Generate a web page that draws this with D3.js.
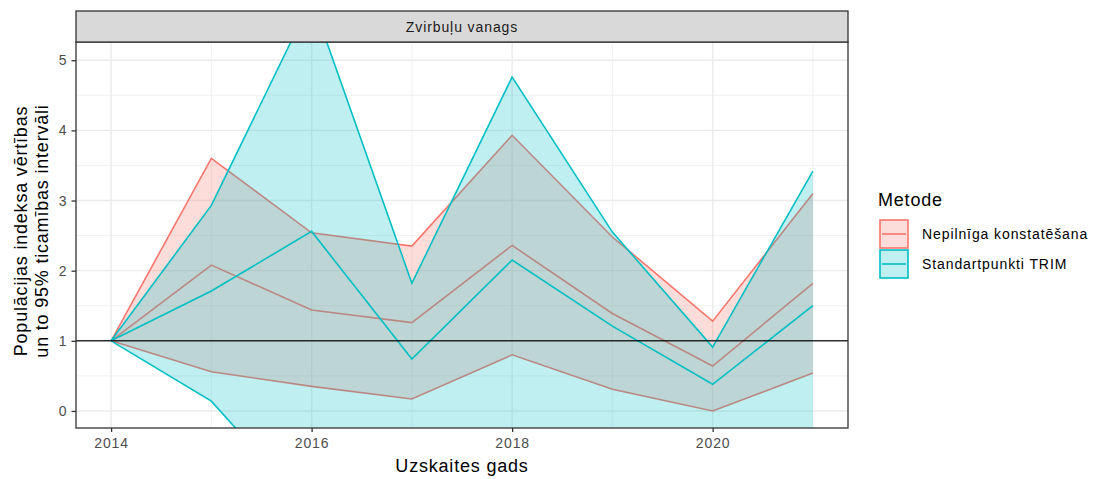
<!DOCTYPE html>
<html>
<head>
<meta charset="utf-8">
<script src="https://cdn.jsdelivr.net/npm/d3@7"></script>
<style>
    body { margin: 0; background: #fff; }
    svg { font-family: "Liberation Sans", Arial, sans-serif; }
</style>
</head>
<body>
<svg width="1097" height="479"></svg>
<script>
const years = [2014, 2015, 2016, 2017, 2018, 2019, 2020, 2021];

// Nepilnīga konstatēšana
const redLower = [1, 0.56, 0.35, 0.17, 0.80, 0.31, 0.00, 0.54];
const redMean  = [1, 2.08, 1.44, 1.26, 2.36, 1.39, 0.64, 1.82];
const redUpper = [1, 3.60, 2.54, 2.35, 3.93, 2.48, 1.28, 3.10];

// Standartpunkti TRIM
const tealLower = [1, 0.14, -1.45, -1.6, -0.9, -1.0, -1.3, -0.6];
const tealMean  = [1, 1.71, 2.56, 0.74, 2.15, 1.21, 0.38, 1.50];
const tealUpper = [1, 2.93, 5.87, 1.82, 4.76, 2.55, 0.91, 3.42];

const xTicks = [2014, 2016, 2018, 2020];
const yTicks = [0, 1, 2, 3, 4, 5];
const seriesNames = ["Nepilnīga konstatēšana", "Standartpunkti TRIM"];
const colors = ["#F8766D", "#00BFC4"];

const svg = d3.select("svg");
const panel = { left: 76, right: 848, top: 42, bottom: 428 };
const smallFont = { size: "14px", spacing: "0.9px" };
const bigFont = { size: "18px", spacing: "0.8px" };

const x = d3.scaleLinear()
    .domain([2013.65, 2021.35])
    .range([panel.left, panel.right]);

const y = d3.scaleLinear()
    .domain([-0.243, 5.26])
    .range([panel.bottom, panel.top]);

svg.append("defs").append("clipPath")
    .attr("id", "clip")
  .append("rect")
    .attr("x", panel.left)
    .attr("y", panel.top)
    .attr("width", panel.right - panel.left)
    .attr("height", panel.bottom - panel.top);

/* grid lines */
const grid = svg.append("g");
d3.range(2015, 2022, 2).forEach((v) => {
    grid.append("line")
        .attr("x1", x(v)).attr("x2", x(v))
        .attr("y1", panel.top).attr("y2", panel.bottom)
        .attr("stroke", "#ebebeb").attr("stroke-width", 0.7);
});
d3.range(-0.5, 5.5, 1).forEach((v) => {
    if (y(v) > panel.bottom || y(v) < panel.top) return;
    grid.append("line")
        .attr("x1", panel.left).attr("x2", panel.right)
        .attr("y1", y(v)).attr("y2", y(v))
        .attr("stroke", "#ebebeb").attr("stroke-width", 0.7);
});
xTicks.forEach((v) => {
    grid.append("line")
        .attr("x1", x(v)).attr("x2", x(v))
        .attr("y1", panel.top).attr("y2", panel.bottom)
        .attr("stroke", "#ebebeb").attr("stroke-width", 1.4);
});
yTicks.forEach((v) => {
    grid.append("line")
        .attr("x1", panel.left).attr("x2", panel.right)
        .attr("y1", y(v)).attr("y2", y(v))
        .attr("stroke", "#ebebeb").attr("stroke-width", 1.4);
});

/* ribbons */
const series = [
    { lower: redLower, mean: redMean, upper: redUpper },
    { lower: tealLower, mean: tealMean, upper: tealUpper }
];

const area = d3.area()
    .x((d, i) => x(years[i]))
    .y0((d) => y(d[0]))
    .y1((d) => y(d[1]));

const line = d3.line()
    .x((d, i) => x(years[i]))
    .y((d) => y(d));

const marks = svg.append("g").attr("clip-path", "url(#clip)");

series.forEach((s, k) => {
    const g = marks.append("g");
    g.append("path")
        .datum(s.lower.map((d, i) => [d, s.upper[i]]))
        .attr("fill", colors[k])
        .attr("fill-opacity", 0.25)
        .attr("d", area);
    [s.lower, s.mean, s.upper].forEach((vals) => {
        g.append("path")
            .datum(vals)
            .attr("fill", "none")
            .attr("stroke", colors[k])
            .attr("stroke-width", 1.6)
            .attr("d", line);
    });
});

/* reference line at 1 */
svg.append("line")
    .attr("x1", panel.left).attr("x2", panel.right)
    .attr("y1", y(1)).attr("y2", y(1))
    .attr("stroke", "#000").attr("stroke-width", 1.4)
    .attr("stroke-opacity", 0.8);

/* panel border */
svg.append("rect")
    .attr("x", panel.left).attr("y", panel.top)
    .attr("width", panel.right - panel.left)
    .attr("height", panel.bottom - panel.top)
    .attr("fill", "none")
    .attr("stroke", "#333").attr("stroke-width", 1.3);

/* strip */
svg.append("rect")
    .attr("x", panel.left).attr("y", 11)
    .attr("width", panel.right - panel.left)
    .attr("height", panel.top - 11)
    .attr("fill", "#d9d9d9")
    .attr("stroke", "#333").attr("stroke-width", 1.3);
svg.append("text")
    .attr("x", (panel.left + panel.right) / 2)
    .attr("y", 32)
    .attr("text-anchor", "middle")
    .attr("font-size", smallFont.size)
    .attr("letter-spacing", smallFont.spacing)
    .attr("fill", "#1a1a1a")
    .text("Zvirbuļu vanags");

/* axes */
const xAxis = svg.append("g")
    .attr("transform", `translate(0,${panel.bottom})`)
    .call(d3.axisBottom(x).tickValues(xTicks).tickFormat(d3.format("d")).tickSize(4).tickPadding(6));
xAxis.select(".domain").remove();
xAxis.selectAll("line").attr("stroke", "#333").attr("stroke-width", 1.3);
xAxis.selectAll("text").attr("fill", "#4d4d4d").attr("font-size", smallFont.size)
    .attr("letter-spacing", smallFont.spacing)
    .attr("font-family", "Liberation Sans, Arial, sans-serif");

const yAxis = svg.append("g")
    .attr("transform", `translate(${panel.left},0)`)
    .call(d3.axisLeft(y).tickValues(yTicks).tickFormat(d3.format("d")).tickSize(4.5).tickPadding(5));
yAxis.select(".domain").remove();
yAxis.selectAll("line").attr("stroke", "#333").attr("stroke-width", 1.3);
yAxis.selectAll("text").attr("fill", "#4d4d4d").attr("font-size", smallFont.size)
    .attr("font-family", "Liberation Sans, Arial, sans-serif");

/* axis titles */
svg.append("text")
    .attr("x", (panel.left + panel.right) / 2)
    .attr("y", 472)
    .attr("text-anchor", "middle")
    .attr("font-size", bigFont.size)
    .attr("letter-spacing", bigFont.spacing)
    .attr("fill", "#000")
    .text("Uzskaites gads");

const yTitle = svg.append("text")
    .attr("transform", `translate(27,${(panel.top + panel.bottom) / 2 - 4}) rotate(-90)`)
    .attr("text-anchor", "middle")
    .attr("font-size", bigFont.size)
    .attr("letter-spacing", bigFont.spacing)
    .attr("fill", "#000");
yTitle.append("tspan").attr("x", 0).attr("dy", 0).text("Populācijas indeksa vērtības");
yTitle.append("tspan").attr("x", 0).attr("dy", 21).text("un to 95% ticamības intervāli");

/* legend */
const legend = svg.append("g").attr("transform", "translate(878,0)");
legend.append("text")
    .attr("x", 0).attr("y", 206)
    .attr("font-size", bigFont.size)
    .attr("letter-spacing", bigFont.spacing)
    .text("Metode");
seriesNames.forEach((name, k) => {
    const top = 219 + k * 30;
    legend.append("rect")
        .attr("x", 2).attr("y", top + 1)
        .attr("width", 28).attr("height", 28)
        .attr("fill", colors[k]).attr("fill-opacity", 0.25)
        .attr("stroke", colors[k]).attr("stroke-width", 1.6);
    legend.append("line")
        .attr("x1", 4).attr("x2", 28)
        .attr("y1", top + 15).attr("y2", top + 15)
        .attr("stroke", colors[k]).attr("stroke-width", 1.6);
    legend.append("text")
        .attr("x", 44).attr("y", top + 20)
        .attr("font-size", smallFont.size)
        .attr("letter-spacing", smallFont.spacing)
        .attr("fill", "#000")
        .text(name);
});
</script>
</body>
</html>
